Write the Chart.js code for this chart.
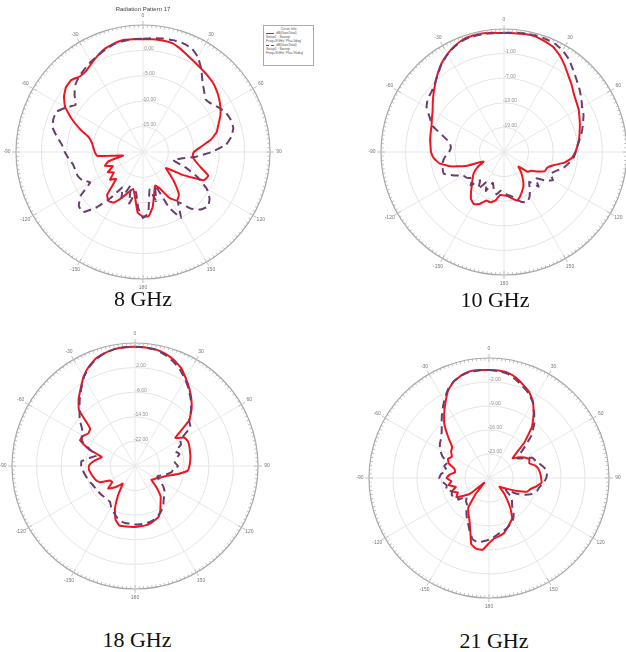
<!DOCTYPE html>
<html>
<head>
<meta charset="utf-8">
<script src="https://cdn.jsdelivr.net/npm/chart.js@4.4.0/dist/chart.umd.min.js"></script>
<style>
    body { margin: 0; width: 626px; height: 652px; overflow: hidden; position: relative; background: #fff; font-family: "Liberation Sans", Arial, sans-serif; }
    .plot { position: absolute; }
    .cap { position: absolute; width: 160px; text-align: center; font-family: "Liberation Serif", "Times New Roman", serif; font-size: 22px; line-height: 24px; color: #111; z-index: 2; }
    #title { position: absolute; left: 93px; top: 6px; width: 100px; text-align: center; font-size: 6px; color: #444; z-index: 2; }
    #legend { position: absolute; left: 263px; top: 25px; width: 51px; height: 41px; border: 1px solid #aaa; background: #fff; font-size: 3.4px; line-height: 4px; color: #555; z-index: 3; padding: 1px 2px; box-sizing: border-box; }
    #legend .row { display: flex; align-items: center; }
    #legend .sw { width: 8px; height: 0; margin-right: 2px; }
</style>
</head>
<body>
<div id="title">Radiation Pattern 17</div>
<div id="legend">
    <div style="text-align:center">Curve Info</div>
    <div class="row"><span class="sw" style="border-top:1px solid #f0141e"></span>dB(GainTotal)</div>
    <div>Setup1 : Sweep</div>
    <div>Freq='8GHz' Phi='0deg'</div>
    <div class="row"><span class="sw" style="border-top:1px dashed #6a3d6e"></span>dB(GainTotal)</div>
    <div>Setup1 : Sweep</div>
    <div>Freq='8GHz' Phi='90deg'</div>
</div>

<script>
// angle categories, 5 deg steps, clockwise from the top (0 .. 180, -175 .. -5)
const angles = Array.from({ length: 72 }, (_, i) => (i * 5 <= 180 ? i * 5 : i * 5 - 360));

const captions = ['8 GHz', '10 GHz', '18 GHz', '21 GHz'];

// radial scale of each panel (dB)
const ringMin = [-20, -25, -30, -30];
const ringMax = [5, 5, 10, 5];
const ringStep = [5, 6, 8, 7];

// 8 GHz
const p1Red = [2.2, 2.3, 2.3, 2.2, 1.6, 0.9, 0.4, 0.0, -0.3, -0.6, -1.1, -1.7, -2.4, -3.2, -4.2, -5.0, -6.5, -8.6, -10.0, -10.2,
    -9.5, -8.2, -6.3, -6.8, -11.0, -14.5, -13.0, -11.0, -9.0, -8.3, -9.5, -12.0, -13.0, -11.5, -9.0, -7.3, -7.3,
    -8.0, -11.0, -12.5, -11.5, -10.0, -8.5, -8.2, -9.0, -12.5, -11.5, -13.0, -12.0, -13.5, -12.0, -13.0, -16.0, -11.0, -10.5,
    -10.2, -9.8, -9.0, -6.8, -4.5, -2.3, -1.0, -0.2, 0.0, -0.6, -0.5, 0.2, 1.0, 1.7, 2.1, 2.4, 2.3];
const p1Dash = [2.3, 2.5, 2.7, 2.8, 2.8, 2.6, 1.6, 0.0, -1.8, -3.0, -3.9, -3.5, -2.6, -1.9, -1.6, -1.6, -2.3, -3.6, -6.5, -9.5,
    -12.5, -13.9, -11.0, -8.0, -5.5, -4.0, -3.3, -4.0, -5.5, -8.0, -5.0, -8.0, -13.0, -10.0, -12.5, -8.0, -7.0,
    -9.0, -12.0, -9.5, -13.0, -10.0, -12.0, -9.0, -5.8, -3.2, -3.5, -5.0, -8.0, -6.8, -6.3, -6.2, -6.0, -5.3, -4.6,
    -4.0, -2.8, -1.6, -1.2, -1.2, -2.5, -3.8, -2.4, -1.2, -0.5, 0.0, 0.5, 1.0, 1.5, 2.0, 2.2, 2.3];

// 10 GHz
const p2Red = [4.0, 4.1, 4.2, 4.2, 3.8, 3.3, 2.2, 0.8, -0.6, -1.7, -2.8, -3.5, -4.0, -4.7, -5.3, -5.9, -6.4, -7.0, -7.6, -8.4,
    -10.0, -12.5, -13.8, -14.0, -15.5, -17.0, -17.5, -20.0, -18.5, -17.0, -15.5, -14.5, -13.5, -12.7, -13.5, -14.2, -14.4,
    -14.5, -13.0, -12.3, -12.4, -11.0, -10.3, -11.0, -12.5, -14.0, -15.0, -16.0, -17.5, -19.5, -15.0, -11.5, -9.0, -7.8, -7.2,
    -7.0, -6.7, -6.5, -6.2, -5.6, -4.9, -3.8, -2.6, -1.3, 0.1, 1.5, 2.6, 3.5, 4.2, 4.4, 4.4, 4.2];
const p2Dash = [4.1, 4.2, 4.4, 4.5, 4.4, 4.2, 3.6, 2.6, 1.2, 0.0, -1.0, -2.0, -3.0, -3.6, -4.5, -5.3, -6.2, -7.0, -7.5, -8.0,
    -9.0, -10.0, -11.5, -12.5, -11.2, -13.0, -15.0, -13.0, -15.5, -14.0, -12.5, -11.5, -12.0, -13.0, -14.0, -14.5, -15.0,
    -15.5, -14.5, -15.5, -17.0, -14.5, -16.5, -14.0, -16.0, -13.5, -15.0, -14.0, -13.5, -11.5, -9.4, -9.5, -9.8, -10.5, -11.6,
    -12.0, -11.5, -9.5, -6.5, -5.0, -3.2, -2.3, -2.0, -1.2, 0.0, 1.4, 2.5, 3.4, 4.0, 4.2, 4.2, 4.1];

// 18 GHz
const p3Red = [8.8, 8.7, 8.5, 7.8, 6.8, 5.3, 3.0, 0.8, -1.5, -4.0, -7.0, -14.0, -11.5, -11.0, -11.2, -11.5, -11.7, -12.0, -12.3, -12.8,
    -15.5, -18.2, -20.0, -21.0, -22.0, -22.5, -23.0, -20.0, -17.0, -15.5, -13.5, -11.8, -11.2, -10.7, -10.4, -10.3, -10.2,
    -10.2, -10.1, -10.0, -11.5, -14.5, -19.0, -23.0, -21.5, -20.0, -18.6, -21.0, -20.5, -17.5, -16.5, -16.0, -15.5, -15.0, -15.0,
    -16.0, -17.5, -18.8, -14.0, -10.3, -10.5, -11.5, -11.0, -4.2, -1.5, 0.8, 3.5, 5.6, 7.2, 8.0, 8.6, 8.8];
const p3Dash = [8.8, 8.7, 8.4, 7.5, 6.2, 4.6, 2.6, 0.5, -1.8, -4.2, -7.0, -8.0, -13.0, -13.5, -16.0, -15.0, -16.5, -17.0, -16.0, -17.5,
    -18.0, -19.5, -21.0, -22.0, -21.0, -19.0, -17.5, -16.5, -15.5, -14.0, -13.0, -12.2, -11.5, -11.2, -11.0, -11.0, -11.0,
    -11.2, -11.2, -11.5, -12.4, -13.5, -14.5, -15.8, -15.8, -15.8, -15.6, -15.5, -15.3, -15.0, -14.5, -14.0, -13.5, -13.0, -12.5,
    -12.5, -15.0, -17.0, -14.5, -11.0, -10.0, -9.0, -6.5, -4.5, -2.0, 0.5, 3.3, 5.4, 7.0, 8.0, 8.6, 8.8];

// 21 GHz
const p4Red = [1.5, 1.5, 1.2, 0.3, -1.0, -2.3, -4.3, -7.3, -10.5, -15.5, -21.0, -19.5, -18.0, -17.0, -17.5, -16.0, -15.3, -15.0, -14.8, -14.6,
    -16.0, -17.5, -18.3, -21.0, -23.5, -25.0, -26.0, -24.0, -21.8, -19.0, -16.5, -15.5, -14.5, -13.3, -12.8, -12.3, -11.0,
    -9.0, -9.0, -10.0, -14.0, -16.5, -18.0, -19.5, -24.0, -28.0, -23.0, -21.0, -19.0, -20.0, -18.5, -20.0, -18.0, -19.0, -17.6,
    -18.5, -20.0, -19.5, -17.5, -16.8, -17.5, -16.5, -16.0, -13.2, -9.8, -7.2, -4.6, -1.8, 0.0, 1.0, 1.6, 1.6];
const p4Dash = [1.5, 1.3, 0.9, -0.2, -1.5, -2.7, -4.5, -7.0, -9.5, -12.5, -17.0, -20.0, -18.5, -16.0, -15.5, -14.5, -13.5, -13.0, -13.3, -14.0,
    -15.0, -15.5, -16.5, -18.5, -21.0, -24.0, -22.0, -20.5, -19.5, -17.5, -16.0, -15.2, -14.5, -14.0, -13.5, -12.8, -12.0,
    -11.5, -11.0, -11.5, -13.5, -15.5, -17.0, -18.5, -20.0, -20.5, -21.5, -19.0, -19.5, -18.0, -18.5, -17.0, -17.5, -16.5, -15.5,
    -16.0, -17.5, -16.5, -17.0, -15.0, -13.5, -12.5, -11.8, -10.5, -8.5, -6.2, -3.9, -1.6, 0.0, 1.0, 1.5, 1.5];

const redSeries = [p1Red, p2Red, p3Red, p4Red];
const dashSeries = [p1Dash, p2Dash, p3Dash, p4Dash];

// panel placement: centre and outer radius in page pixels, caption centre
const panels = [
    { cx: 143, cy: 152, r: 127, capX: 143, capY: 299 },
    { cx: 504, cy: 152, r: 123, capX: 495, capY: 300 },
    { cx: 135, cy: 466, r: 123, capX: 137, capY: 640 },
    { cx: 489, cy: 478, r: 120, capX: 494, capY: 641 }
];
const PAD = 24;

// outer tick marks, angle labels and ring labels
const decor = {
    id: 'decor',
    afterDraw(chart) {
        const s = chart.scales.r;
        const ctx = chart.ctx;
        const R = s.drawingArea;
        const xc = s.xCenter, yc = s.yCenter;
        ctx.save();
        ctx.strokeStyle = '#b0b0b0';
        ctx.lineWidth = 0.8;
        for (let a = 0; a < 360; a += 2) {
            const major = a % 30 === 0;
            const r0 = major ? R - 4 : R - 2.5;
            const r1 = major ? R + 4 : R;
            const t = a * Math.PI / 180;
            ctx.beginPath();
            ctx.moveTo(xc + r0 * Math.sin(t), yc - r0 * Math.cos(t));
            ctx.lineTo(xc + r1 * Math.sin(t), yc - r1 * Math.cos(t));
            ctx.stroke();
        }
        ctx.fillStyle = '#777';
        ctx.font = '5px "Liberation Sans", Arial, sans-serif';
        ctx.textAlign = 'center';
        ctx.textBaseline = 'middle';
        angles.forEach((lab, i) => {
            if (i % 6 !== 0) return;
            const p = s.getPointPosition(i, R + 9);
            ctx.fillText(String(lab), p.x, p.y);
        });
        ctx.fillStyle = '#909090';
        s.ticks.forEach((tk, i) => {
            if (i === 0 || i === s.ticks.length - 1) return;
            const d = s.getDistanceFromCenterForValue(tk.value);
            ctx.fillText(tk.value.toFixed(2), xc + 6, yc - d - 2);
        });
        ctx.restore();
    }
};

panels.forEach((p, k) => {
    const size = 2 * p.r + 2 * PAD;
    const wrap = document.createElement('div');
    wrap.className = 'plot';
    wrap.style.left = (p.cx - p.r - PAD) + 'px';
    wrap.style.top = (p.cy - p.r - PAD) + 'px';
    const canvas = document.createElement('canvas');
    canvas.width = size;
    canvas.height = size;
    wrap.appendChild(canvas);
    document.body.appendChild(wrap);

    const cap = document.createElement('div');
    cap.className = 'cap';
    cap.textContent = captions[k];
    cap.style.left = (p.capX - 80) + 'px';
    cap.style.top = (p.capY - 12) + 'px';
    document.body.appendChild(cap);

    new Chart(canvas.getContext('2d'), {
        type: 'radar',
        data: {
            labels: angles,
            datasets: [
                {
                    data: dashSeries[k],
                    borderColor: '#6a3d6e',
                    borderWidth: 2,
                    borderDash: [8, 5],
                    pointRadius: 0,
                    fill: false,
                    tension: 0.1
                },
                {
                    data: redSeries[k],
                    borderColor: '#f0141e',
                    borderWidth: 2,
                    pointRadius: 0,
                    fill: false,
                    tension: 0.1
                }
            ]
        },
        options: {
            responsive: false,
            animation: false,
            layout: { padding: PAD },
            plugins: { legend: { display: false }, tooltip: { enabled: false } },
            scales: {
                r: {
                    min: ringMin[k],
                    max: ringMax[k],
                    startAngle: 0,
                    ticks: { stepSize: ringStep[k], display: false },
                    grid: {
                        circular: true,
                        color: (c) => (c.index === 5 ? '#a8a8a8' : '#e4e4e4'),
                        lineWidth: (c) => (c.index === 5 ? 1.2 : 1)
                    },
                    angleLines: {
                        color: (c) => (c.index % 6 === 0 ? '#e8e8e8' : 'rgba(0,0,0,0)'),
                        lineWidth: 1
                    },
                    pointLabels: { display: false }
                }
            }
        },
        plugins: [decor]
    });
});
</script>
</body>
</html>
